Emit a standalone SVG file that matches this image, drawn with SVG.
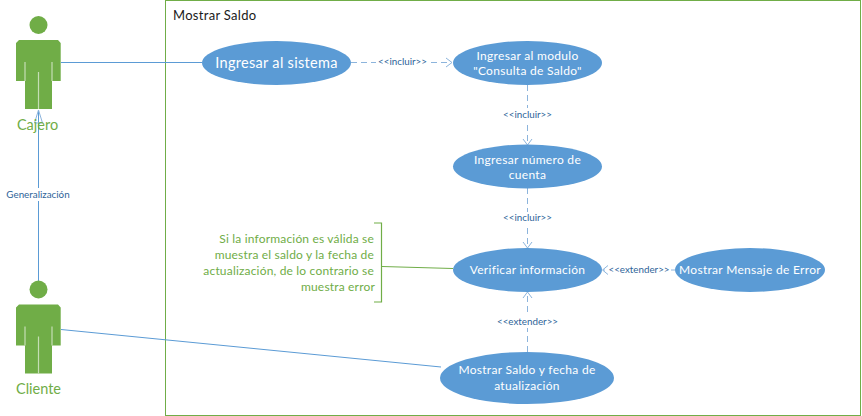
<svg xmlns="http://www.w3.org/2000/svg" width="862" height="416" viewBox="0 0 862 416">
<style>
text{font-family:Lato,Carlito,"Liberation Sans",sans-serif}
.uc{fill:#5b9bd5}
.ut{fill:#fff;font-size:12px;text-anchor:middle;letter-spacing:.3px}
.lbl{fill:#2e6499;font-size:9.8px;text-anchor:middle}
.lb{fill:#fff}
.act{fill:#70ad47}
.gap{stroke:#c5deb5;stroke-width:1.2;fill:none}
.an{fill:#70ad47;font-size:14.5px;text-anchor:middle}
.c{stroke:#5b9bd5;fill:none;stroke-width:1}
.d{stroke-dasharray:6 4;stroke:#8cb4dc}
.ah{stroke:#8cb4dc;fill:none;stroke-width:1}
.note{fill:#70ad47;font-size:12px;text-anchor:end;letter-spacing:.18px}
</style>
<defs>
<g id="actor">
<circle cx="38.5" cy="25" r="9" class="act"/>
<path class="act" d="M19 40H58L60.7 43V81H52V109H25V81H16V43Z"/>
<path class="gap" d="M25 62V81M52 62V81M38.5 72V109"/>
</g>
</defs>
<rect id="frame" x="165.5" y="0.5" width="695" height="415" fill="none" stroke="#70ad47" stroke-width="1"/>
<text x="173" y="20" font-size="13" fill="#1a1a1a" letter-spacing=".3">Mostrar Saldo</text>
<g id="connectors">
<path class="c" d="M61 62.5H202" stroke-width="1.2"/>
<path class="c" d="M38.5 289V110"/>
<path class="ah" d="M38.5 110L34.5 123H42.5Z" stroke="#5b9bd5"/>
<path class="c" d="M61 329.5L441 367"/>
<path class="c d" d="M351 62.5H451"/>
<path class="ah" d="M446 58L452 62.5L446 67"/>
<path class="c d" d="M527.5 85V144"/>
<path class="ah" d="M523 139L527.5 145L532 139"/>
<path class="c d" d="M527.5 188V247"/>
<path class="ah" d="M523 242L527.5 248L532 242"/>
<path class="c d" d="M675 270H603"/>
<path class="ah" d="M608 265.500L602.500 270L608 274.500"/>
<path class="c d" d="M527.500 352V293"/>
<path class="ah" d="M523 298L527.500 292L532 298"/>
<path d="M382 266.500L453 268.500" stroke="#70ad47" fill="none" stroke-width="1.200"/>
<path d="M374 223H381.500V302H374" stroke="#70ad47" fill="none" stroke-width="1.200"/>
<rect x="376" y="56" width="53" height="13" class="lb"/>
<text x="402.500" y="65" class="lbl">&lt;&lt;incluir&gt;&gt;</text>
<rect x="501" y="108" width="53" height="13" class="lb"/>
<text x="527.500" y="118" class="lbl">&lt;&lt;incluir&gt;&gt;</text>
<rect x="501" y="212" width="53" height="13" class="lb"/>
<text x="527.500" y="221" class="lbl">&lt;&lt;incluir&gt;&gt;</text>
<rect x="608" y="263" width="63" height="13" class="lb"/>
<text x="639" y="273" class="lbl">&lt;&lt;extender&gt;&gt;</text>
<rect x="496" y="315" width="63" height="13" class="lb"/>
<text x="527.500" y="325" class="lbl">&lt;&lt;extender&gt;&gt;</text>
<rect x="5" y="188" width="67" height="13" class="lb"/>
<text x="38" y="198" class="lbl">Generalización</text>
</g>
<g id="cajero"><use href="#actor"/><text x="37.500" y="130" class="an">Cajero</text></g>
<g id="cliente"><use href="#actor" y="264.500"/><text x="38.500" y="394" class="an">Cliente</text></g>
<g id="uc1"><ellipse class="uc" cx="276.500" cy="63" rx="74.500" ry="22"/><text class="ut" x="276.500" y="68" style="font-size:14.500px">Ingresar al sistema</text></g>
<g id="uc2"><ellipse class="uc" cx="527.500" cy="63" rx="74.500" ry="22"/><text class="ut" x="527.500" y="59.500">Ingresar al modulo</text><text class="ut" x="527.500" y="75">"Consulta de Saldo"</text></g>
<g id="uc3"><ellipse class="uc" cx="527.500" cy="166.500" rx="74.500" ry="22"/><text class="ut" x="527.500" y="163.500">Ingresar número de</text><text class="ut" x="527.500" y="179">cuenta</text></g>
<g id="uc4"><ellipse class="uc" cx="527.500" cy="270" rx="74.500" ry="22"/><text class="ut" x="527.500" y="274">Verificar información</text></g>
<g id="uc5"><ellipse class="uc" cx="750" cy="270" rx="75" ry="22"/><text class="ut" x="750" y="274">Mostrar Mensaje de Error</text></g>
<g id="uc6"><ellipse class="uc" cx="527" cy="378" rx="87" ry="26"/><text class="ut" x="527" y="374">Mostrar Saldo y fecha de</text><text class="ut" x="527" y="390">atualización</text></g>
<g id="note">
<text class="note" x="374" y="243">Si la información es válida se</text>
<text class="note" x="374" y="259">muestra el saldo y la fecha de</text>
<text class="note" x="374" y="275">actualización, de lo contrario se</text>
<text class="note" x="375" y="291">muestra error</text>
</g>
</svg>
